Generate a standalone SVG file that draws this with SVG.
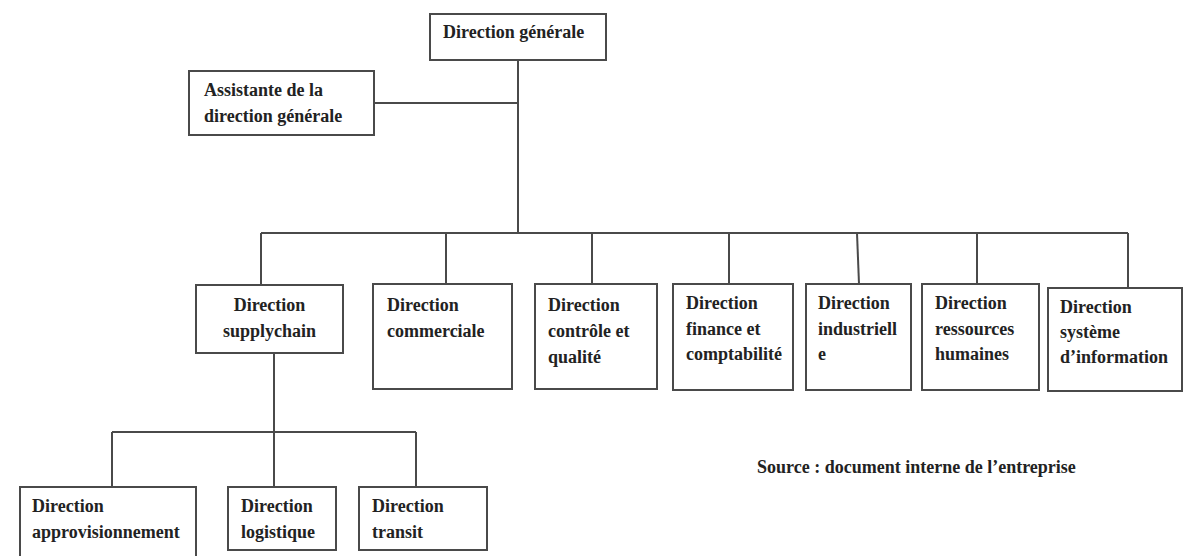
<svg xmlns="http://www.w3.org/2000/svg" width="1188" height="556" viewBox="0 0 1188 556">
<style>
.box{fill:#fff;stroke:#4a4a4a;stroke-width:2}
.t{font-family:"Liberation Serif","Times New Roman",serif;font-weight:bold;font-size:18px;fill:#222}
.c{text-anchor:middle}
.ln{stroke:#4a4a4a;stroke-width:2;fill:none}
</style>
<rect width="1188" height="556" fill="#fff"/>
<g id="connectors">
<path class="ln" d="M518 60V233"/>
<path class="ln" d="M374 103H518"/>
<path class="ln" d="M261 233H1128"/>
<path class="ln" d="M261 233V285"/>
<path class="ln" d="M446 233V284"/>
<path class="ln" d="M592 233V284"/>
<path class="ln" d="M729 233V284"/>
<path class="ln" d="M857 233L859 284"/>
<path class="ln" d="M977 233V284"/>
<path class="ln" d="M1128 233V288"/>
<path class="ln" d="M274 353V487"/>
<path class="ln" d="M112 432H416"/>
<path class="ln" d="M112 432V487"/>
<path class="ln" d="M416 432V487"/>
</g>
<g id="dg"><rect class="box" x="430" y="14" width="176" height="46"/><text class="t" x="443" y="38">Direction générale</text></g>
<g id="assistante"><rect class="box" x="189" y="71" width="185" height="64"/><text class="t" x="204" y="96">Assistante de la</text><text class="t" x="204" y="122">direction générale</text></g>
<g id="supplychain"><rect class="box" x="196" y="285" width="147" height="68"/><text class="t c" x="269.5" y="311">Direction</text><text class="t c" x="269.5" y="337">supplychain</text></g>
<g id="commerciale"><rect class="box" x="373" y="284" width="139" height="105"/><text class="t" x="387" y="311">Direction</text><text class="t" x="387" y="337">commerciale</text></g>
<g id="qualite"><rect class="box" x="535" y="284" width="122" height="105"/><text class="t" x="548" y="311">Direction</text><text class="t" x="548" y="337">contrôle et</text><text class="t" x="548" y="363">qualité</text></g>
<g id="finance"><rect class="box" x="673" y="284" width="120" height="106"/><text class="t" x="686" y="309">Direction</text><text class="t" x="686" y="335">finance et</text><text class="t" x="686" y="360">comptabilité</text></g>
<g id="industrielle"><rect class="box" x="806" y="284" width="105" height="106"/><text class="t" x="818" y="309">Direction</text><text class="t" x="818" y="335">industriell</text><text class="t" x="818" y="360">e</text></g>
<g id="rh"><rect class="box" x="922" y="284" width="117" height="106"/><text class="t" x="935" y="309">Direction</text><text class="t" x="935" y="335">ressources</text><text class="t" x="935" y="360">humaines</text></g>
<g id="si"><rect class="box" x="1048" y="288" width="134" height="103"/><text class="t" x="1060" y="313">Direction</text><text class="t" x="1060" y="338">système</text><text class="t" x="1060" y="363">d’information</text></g>
<g id="appro"><rect class="box" x="20" y="487" width="176" height="75"/><text class="t" x="32" y="512">Direction</text><text class="t" x="32" y="538">approvisionnement</text></g>
<g id="logistique"><rect class="box" x="228" y="487" width="108" height="63"/><text class="t" x="241" y="512">Direction</text><text class="t" x="241" y="538">logistique</text></g>
<g id="transit"><rect class="box" x="359" y="487" width="128" height="63"/><text class="t" x="372" y="512">Direction</text><text class="t" x="372" y="538">transit</text></g>
<text class="t" x="757" y="473">Source : document interne de l’entreprise</text>
</svg>
